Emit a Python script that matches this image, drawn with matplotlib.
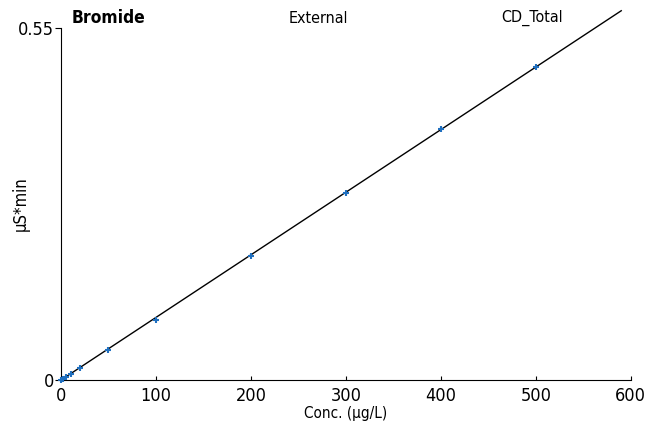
import numpy as np
import matplotlib.pyplot as plt

# calibration standards (ug/L) and peak areas (uS*min)
conc = [0, 2, 5, 10, 20, 50, 100, 200, 300, 400, 500]
area = [0.0005, 0.002, 0.005, 0.0098, 0.0195, 0.047, 0.094, 0.194, 0.292, 0.392, 0.489]
slope = 0.000978
fit_x = [0, 590]

plt.rcParams['font.family'] = ['DejaVu Sans']
plt.rcParams['font.stretch'] = 'condensed'

fig = plt.figure(figsize=(6.64, 4.38), dpi=100)
ax = fig.add_axes([0.0919, 0.1324, 0.858, 0.8036])

ax.plot(fit_x, [slope * v for v in fit_x], color='black', lw=1.0, clip_on=False, zorder=2)
ax.plot(conc, area, '+', color='#1f6fbf', ms=5, mew=1.5, zorder=3, clip_on=False)

ax.set_xlim(0, 600)
ax.set_ylim(0, 0.55)
ax.set_xticks([0, 100, 200, 300, 400, 500, 600])
ax.set_yticks([0, 0.55])
ax.set_yticklabels(['0', '0.55'])
for s in ['top', 'right']:
    ax.spines[s].set_visible(False)
ax.tick_params(axis='x', direction='in', length=3, labelsize=13, pad=5)
ax.tick_params(axis='y', direction='out', length=4, labelsize=13, pad=1)
ax.set_xlabel('Conc. (µg/L)', fontsize=11, labelpad=1)
ax.set_ylabel('µS*min', fontsize=12)
ax.yaxis.set_label_coords(-0.055, 0.5)

fig.text(0.108, 0.958, 'Bromide', fontsize=12.5, fontweight='bold', va='center')
fig.text(0.48, 0.958, 'External', fontsize=11.5, va='center', ha='center')
fig.text(0.801, 0.958, 'CD_Total', fontsize=11.5, va='center', ha='center')

fig.savefig('out.png', dpi=100)
